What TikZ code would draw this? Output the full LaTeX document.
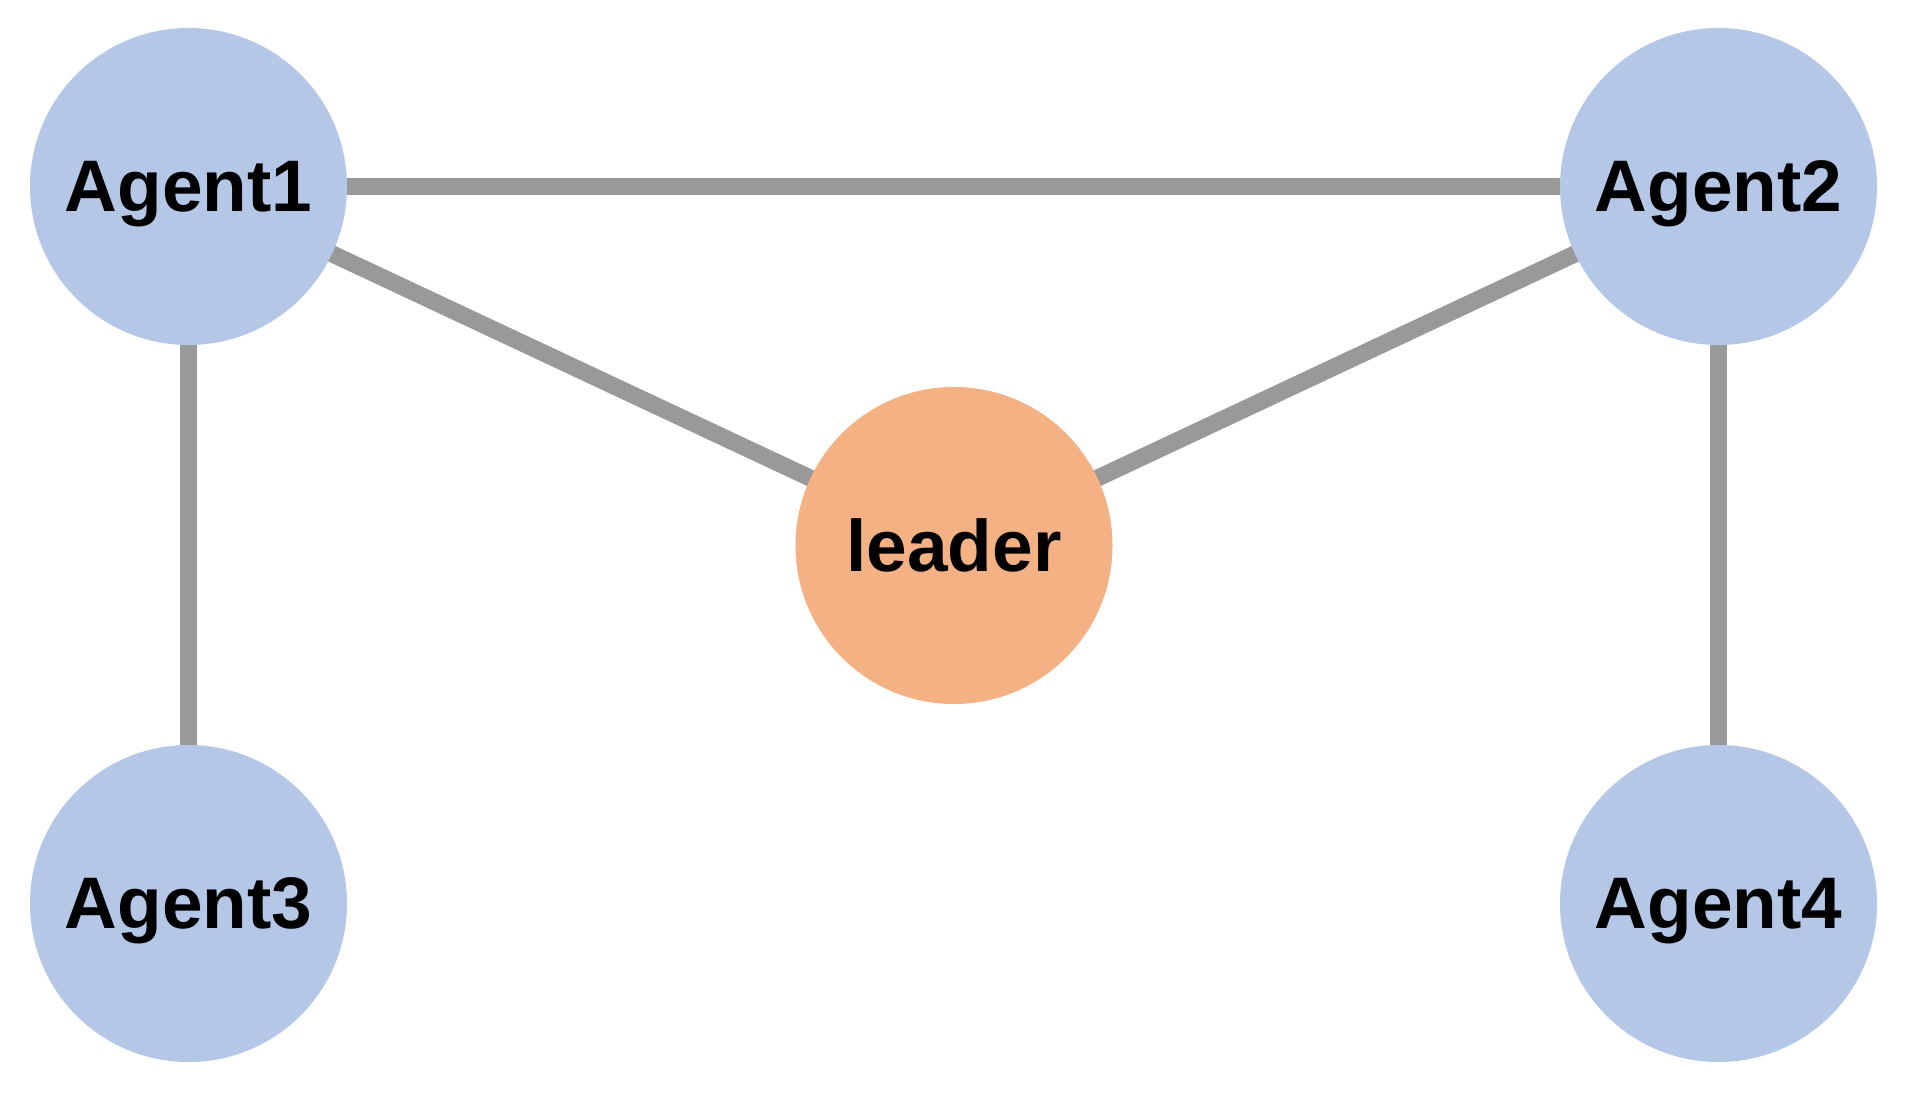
\documentclass[tikz,border=0pt]{standalone}
\usepackage{fontspec}
\setmainfont{Liberation Sans}
\definecolor{agentblue}{HTML}{B4C7E7}
\definecolor{leaderorange}{HTML}{F4B183}
\definecolor{edgegray}{HTML}{999999}
\begin{document}
\begin{tikzpicture}[x=1pt,y=-1pt,
  agent/.style={circle,fill=agentblue,minimum size=317pt,inner sep=0pt,text depth=0pt,
    font=\fontsize{73}{80}\selectfont\bfseries},
  leadnode/.style={circle,fill=leaderorange,minimum size=317pt,inner sep=0pt,text depth=0pt,
    font=\fontsize{73}{80}\selectfont\bfseries},
  link/.style={draw=edgegray,line width=17pt}]
\useasboundingbox (0,0) rectangle (1913,1100);
\fill[white] (0,0) rectangle (1913,1100);
\coordinate (c1) at (188.5,186.5);
\coordinate (c2) at (1718.5,186.5);
\coordinate (c3) at (188.5,903.5);
\coordinate (c4) at (1718.5,903.5);
\coordinate (cl) at (954,545.5);
\draw[link] (c1) -- (c2);
\draw[link] (c1) -- (cl);
\draw[link] (c2) -- (cl);
\draw[link] (c1) -- (c3);
\draw[link] (c2) -- (c4);
\node[agent] (a1) at (c1) {Agent1};
\node[agent] (a2) at (c2) {Agent2};
\node[agent] (a3) at (c3) {Agent3};
\node[agent] (a4) at (c4) {Agent4};
\node[leadnode] (ld) at (cl) {leader};
\end{tikzpicture}
\end{document}
